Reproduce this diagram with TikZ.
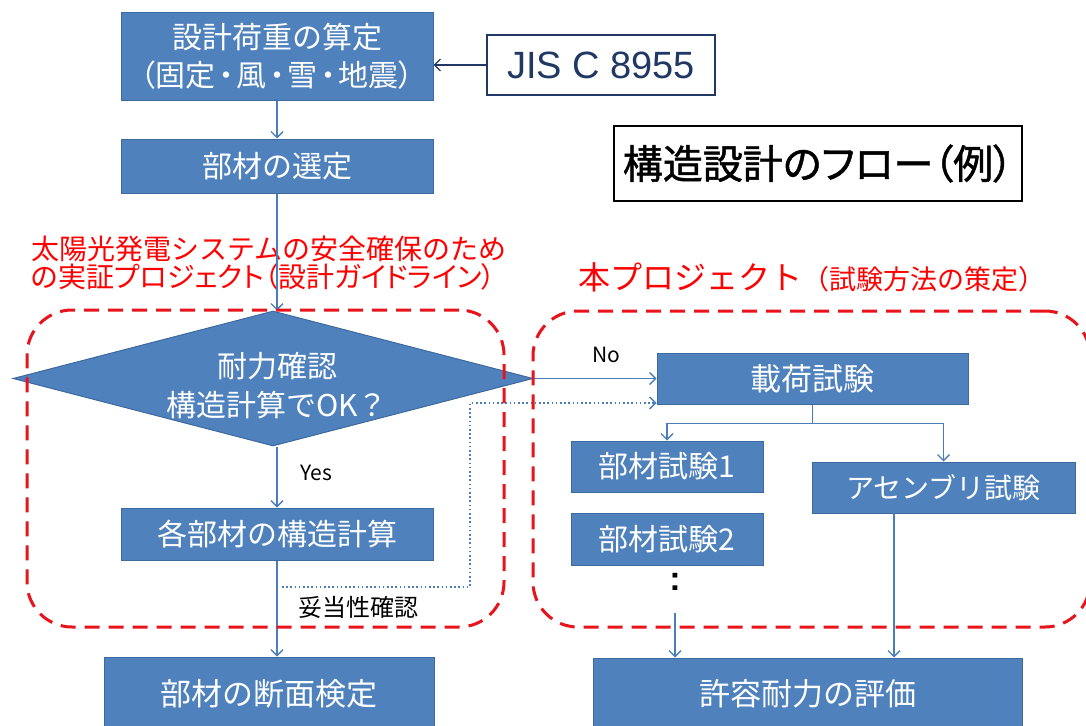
\documentclass[tikz,border=0pt]{standalone}
\usepackage{fontspec}
\newfontfamily\jp{Noto Sans CJK JP}
\newfontfamily\jpp[RawFeature=+palt]{Noto Sans CJK JP}
\newfontfamily\jpmed[RawFeature=+palt,FakeBold=1.2]{Noto Sans CJK JP}
\newfontfamily\arialf{Liberation Sans}
\usetikzlibrary{arrows.meta,shapes.geometric}
\definecolor{boxblue}{HTML}{4F81BD}
\definecolor{boxedge}{HTML}{3C6A9E}
\definecolor{linkblue}{HTML}{4A7EBB}
\definecolor{navy}{HTML}{1F3864}
\definecolor{dashred}{HTML}{E8141C}
\newcommand\jpbox{\jp\fontsize{30}{38}\selectfont}
\begin{document}
\begin{tikzpicture}[x=1pt,y=-1pt,
  bx/.style={rectangle, fill=boxblue, draw=boxedge, line width=1, text=white, inner sep=0, align=center, font=\jpbox},
  conn/.style={draw=linkblue, line width=1.3, -{Straight Barb[length=6,width=12,line width=1.3]}},
  navyconn/.style={draw=navy, line width=1.3, -{Straight Barb[length=6,width=12,line width=1.3]}},
  dotconn/.style={draw=linkblue, line width=1.8, dash pattern=on 1.6 off 2.6, -{Straight Barb[length=6,width=12,line width=1.3]}},
  frame/.style={rectangle, draw=dashred, line width=3, dash pattern=on 15 off 9, rounded corners=45, inner sep=0},
  lbl/.style={inner sep=0, text=black}]
\useasboundingbox (0,0) rectangle (1086,725);
\fill[white] (0,0) rectangle (1086,725);

% left column
\node[bx, minimum width=312, minimum height=87] (b1) at (277,56.5) {設計荷重の算定\\{\jpp（固定\kern3pt・\kern3pt風\kern3pt・\kern3pt雪\kern3pt・\kern3pt地震）}};
\node[bx, minimum width=312, minimum height=54] (b2) at (277,166) {部材の選定};
\node[draw=navy, line width=1.2, fill=white, minimum width=228, minimum height=60, inner sep=0, text=navy,
      font=\arialf\fontsize{38}{38}\selectfont] (jis) at (601,65) {JIS C 8955};
\node[draw=black, line width=1.2, minimum width=408, minimum height=75, inner sep=0,
      font=\jpmed\fontsize{40}{40}\selectfont] (ttl) at (818,163.5) {構造設計のフロー（例）};

\node[anchor=west, text=red, align=left, inner sep=0] (rt) at (31,263)
  {{\jp\fontsize{28}{32}\selectfont 太陽光発電システムの安全確保のため}\\{\jpp\fontsize{28}{32}\selectfont の実証プロジェクト（設計ガイドライン）}};

\node[diamond, aspect=3.9, fill=boxblue, draw=boxedge, line width=1, minimum width=520, minimum height=135, inner sep=0] (d) at (273,378.5) {};
\node[text=white, align=center, inner sep=0, font=\jp\fontsize{30}{39}\selectfont] (dt) at (277,386) {耐力確認\\構造計算でOK？};

\node[bx, minimum width=312, minimum height=52] (b3) at (277,534) {各部材の構造計算};
\node[bx, minimum width=330, minimum height=73, font=\jp\fontsize{31}{38}\selectfont] (b4) at (269,693.5) {部材の断面検定};

\node[lbl, font=\jp\fontsize{21}{21}\selectfont] (yes) at (316,473) {Yes};
\node[lbl, font=\jp\fontsize{24}{24}\selectfont] (dat) at (358,607) {妥当性確認};

% right column
\node[anchor=west, text=red, inner sep=0] (pt) at (578,277)
  {{\jp\fontsize{32}{32}\selectfont 本プロジェクト}{\jp\fontsize{27}{27}\selectfont （試験方法の策定）}};
\node[lbl, font=\jp\fontsize{21}{21}\selectfont] (no) at (606,355) {No};

\node[bx, minimum width=311, minimum height=51, font=\jp\fontsize{31}{38}\selectfont] (b5) at (812.5,378.5) {載荷試験};
\node[bx, minimum width=192, minimum height=51, font=\jp\fontsize{30}{34}\selectfont] (b6) at (667,466.5) {部材試験1};
\node[bx, minimum width=192, minimum height=52, font=\jp\fontsize{30}{34}\selectfont] (b7) at (667,539) {部材試験2};
\node[bx, minimum width=263, minimum height=51, font=\jp\fontsize{28}{34}\selectfont] (b8) at (943.5,487.5) {アセンブリ試験};
\node[bx, minimum width=429, minimum height=72, font=\jp\fontsize{31}{38}\selectfont] (b9) at (807.5,694) {許容耐力の評価};

\node[lbl, font=\arialf\bfseries\fontsize{34}{34}\selectfont] (dots) at (675,582) {:};

% connectors
\draw[navyconn] (jis.west) -- (jis.west -| b1.east);
\draw[conn] (b1.south) -- (b2.north);
\draw[conn] (b2.south) -- (b2.south |- d.north);
\draw[conn] (b3.north |- d.south) -- (b3.north);
\draw[conn] (b3.south) -- (b3.south |- b4.north);
\draw[conn] (d.east) -- (b5.west);

\coordinate (ds) at (282,587);
\coordinate (dc) at (470,403);
\draw[dotconn] (ds) -| (dc) -- (dc -| b5.west);

\draw[draw=linkblue, line width=1.3] (b5.south) -- ++(0,19) coordinate (br);
\draw[conn] (br) -| (b6.north);
\draw[conn] (br) -| (b8.north);

\coordinate (a8) at (894,513);
\draw[conn] (a8) -- (a8 |- b9.north);
\coordinate (a7) at (675,613);
\draw[conn] (a7) -- (a7 |- b9.north);

% dashed frames
\node[frame, minimum width=477, minimum height=317] (f1) at (265.5,468.5) {};
\node[frame, minimum width=557, minimum height=316] (f2) at (811.5,469) {};
\end{tikzpicture}
\end{document}
